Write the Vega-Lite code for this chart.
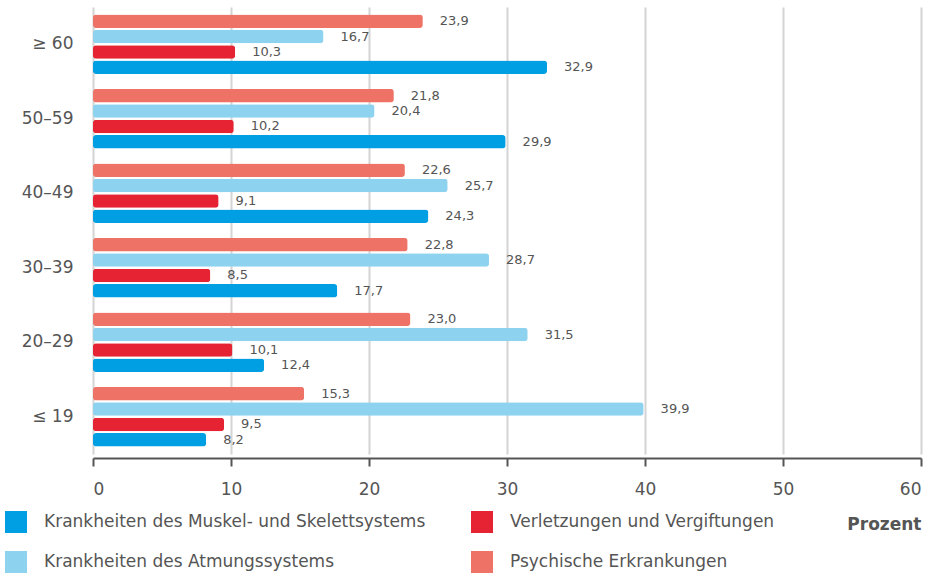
{
  "$schema": "https://vega.github.io/schema/vega-lite/v6.json",
  "width": 828,
  "height": 447,
  "autosize": "none",
  "padding": {"left": 93, "top": 7, "right": 10, "bottom": 119},
  "background": "white",
  "config": {
    "locale": {"number": {"decimal": ",", "thousands": ".", "grouping": [3], "currency": ["", " €"]}},
    "font": "DejaVu Sans",
    "view": {"stroke": null}
  },
  "data": {
    "values": [
      {"alter": "≥ 60", "kat": "Psychische Erkrankungen", "wert": 23.9},
      {"alter": "≥ 60", "kat": "Krankheiten des Atmungssystems", "wert": 16.7},
      {"alter": "≥ 60", "kat": "Verletzungen und Vergiftungen", "wert": 10.3},
      {"alter": "≥ 60", "kat": "Krankheiten des Muskel- und Skelettsystems", "wert": 32.9},
      {"alter": "50–59", "kat": "Psychische Erkrankungen", "wert": 21.8},
      {"alter": "50–59", "kat": "Krankheiten des Atmungssystems", "wert": 20.4},
      {"alter": "50–59", "kat": "Verletzungen und Vergiftungen", "wert": 10.2},
      {"alter": "50–59", "kat": "Krankheiten des Muskel- und Skelettsystems", "wert": 29.9},
      {"alter": "40–49", "kat": "Psychische Erkrankungen", "wert": 22.6},
      {"alter": "40–49", "kat": "Krankheiten des Atmungssystems", "wert": 25.7},
      {"alter": "40–49", "kat": "Verletzungen und Vergiftungen", "wert": 9.1},
      {"alter": "40–49", "kat": "Krankheiten des Muskel- und Skelettsystems", "wert": 24.3},
      {"alter": "30–39", "kat": "Psychische Erkrankungen", "wert": 22.8},
      {"alter": "30–39", "kat": "Krankheiten des Atmungssystems", "wert": 28.7},
      {"alter": "30–39", "kat": "Verletzungen und Vergiftungen", "wert": 8.5},
      {"alter": "30–39", "kat": "Krankheiten des Muskel- und Skelettsystems", "wert": 17.7},
      {"alter": "20–29", "kat": "Psychische Erkrankungen", "wert": 23.0},
      {"alter": "20–29", "kat": "Krankheiten des Atmungssystems", "wert": 31.5},
      {"alter": "20–29", "kat": "Verletzungen und Vergiftungen", "wert": 10.1},
      {"alter": "20–29", "kat": "Krankheiten des Muskel- und Skelettsystems", "wert": 12.4},
      {"alter": "≤ 19", "kat": "Psychische Erkrankungen", "wert": 15.3},
      {"alter": "≤ 19", "kat": "Krankheiten des Atmungssystems", "wert": 39.9},
      {"alter": "≤ 19", "kat": "Verletzungen und Vergiftungen", "wert": 9.5},
      {"alter": "≤ 19", "kat": "Krankheiten des Muskel- und Skelettsystems", "wert": 8.2}
    ]
  },
  "encoding": {
    "y": {
      "field": "alter", "type": "nominal",
      "sort": ["≥ 60", "50–59", "40–49", "30–39", "20–29", "≤ 19"],
      "scale": {"paddingInner": 0.2, "paddingOuter": 0.1},
      "axis": {"title": null, "domain": false, "ticks": false, "labelFontSize": 17, "labelColor": "#555555", "labelPadding": 20}
    },
    "yOffset": {
      "field": "kat", "type": "nominal",
      "sort": ["Psychische Erkrankungen", "Krankheiten des Atmungssystems", "Verletzungen und Vergiftungen", "Krankheiten des Muskel- und Skelettsystems"],
      "scale": {"paddingInner": 0.12, "paddingOuter": 0}
    },
    "x": {
      "field": "wert", "type": "quantitative",
      "scale": {"domain": [0, 60], "nice": false},
      "axis": {
        "values": [0, 10, 20, 30, 40, 50, 60],
        "offset": 4,
        "domainColor": "#555555", "domainWidth": 2,
        "tickColor": "#555555", "tickWidth": 2, "tickSize": 8,
        "gridColor": "#d4d4d4", "gridWidth": 2,
        "labelFontSize": 17, "labelColor": "#555555", "labelPadding": 15,
        "title": "Prozent", "titleFontSize": 17, "titleFontWeight": "bold", "titleColor": "#555555",
        "titleX": 828, "titleY": 66, "titleAlign": "right", "titleBaseline": "middle", "titleAngle": 0
      }
    }
  },
  "layer": [
    {
      "mark": {"type": "bar", "cornerRadius": 3},
      "encoding": {
        "color": {
          "field": "kat", "type": "nominal",
          "scale": {
            "domain": ["Krankheiten des Muskel- und Skelettsystems", "Krankheiten des Atmungssystems", "Verletzungen und Vergiftungen", "Psychische Erkrankungen"],
            "range": ["#009fe3", "#8dd3ef", "#e52333", "#ee7266"]
          },
          "legend": {
            "title": null, "orient": "none", "legendX": -88, "legendY": 504,
            "columns": 2, "symbolType": "square", "symbolSize": 484, "symbolStrokeWidth": 0,
            "labelFontSize": 17, "labelColor": "#555555", "labelOffset": 17,
            "rowPadding": 18, "columnPadding": 45, "labelLimit": 500
          }
        }
      }
    },
    {
      "mark": {"type": "text", "align": "left", "baseline": "middle", "dx": 17, "fontSize": 13, "color": "#555555"},
      "encoding": {
        "text": {"field": "wert", "type": "quantitative", "format": ".1f"}
      }
    }
  ]
}
